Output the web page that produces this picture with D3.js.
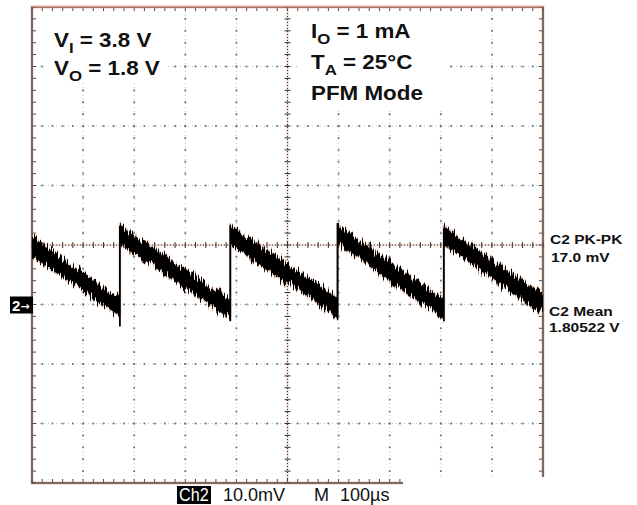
<!DOCTYPE html>
<html lang="en">
<head>
    <meta charset="UTF-8">
    <title>PFM output ripple</title>
    <script src="https://d3js.org/d3.v7.js"></script>
    <style>
        body { margin: 0; background: #fff; }
        svg { display: block; }
    </style>
</head>
<body>
    <svg></svg>
    <script>
        // trace: time in us, band centre in volts
        const traceTime = [0, 172, 172, 388, 388, 598, 598, 806, 806, 1000];
        const traceVolt = [1.8098, 1.7995, 1.8118, 1.7992, 1.8117, 1.7995, 1.8118, 1.7992, 1.8116, 1.8000];
        // the thin edges at each switching event
        const riseTime = [172, 388, 598, 806];
        const riseLow = [1.7963, 1.7972, 1.7975, 1.7972];
        const riseHigh = [1.8132, 1.8133, 1.8137, 1.8128];
        const bandHalf = 0.0016;   // noise band, +-1.6 mV

        const condLeft = [["V", "I", " = 3.8 V"], ["V", "O", " = 1.8 V"]];
        const condRight = [["I", "O", " = 1 mA"], ["T", "A", " = 25°C"], ["PFM Mode", "", ""]];
        const measLabels = ["C2 PK-PK", "17.0 mV", "C2 Mean", "1.80522 V"];

        const width = 637, height = 505;
        const svg = d3.select("svg").attr("width", width).attr("height", height);

        // 10 div x 100 us, 8 div x 10 mV, marker (2->) at 1.800 V
        const x = d3.scaleLinear().domain([0, 1000]).range([32, 543]);
        const y = d3.scaleLinear().domain([1.770, 1.850]).range([483, 7]);

        const majorX = d3.range(0, 1001, 100);
        const majorY = d3.range(0, 9).map(i => 1.770 + i * 0.01);
        const minorX = d3.range(0, 1001, 20);
        const minorY = d3.range(0, 41).map(i => 1.770 + i * 0.002);

        const defs = svg.append("defs");
        defs.append("clipPath").attr("id", "plot")
            .append("rect").attr("x", 32).attr("y", 7).attr("width", 511).attr("height", 476);

        // vertical jitter for the noisy trace
        const f = defs.append("filter").attr("id", "noise")
            .attr("x", "-2%").attr("y", "-20%").attr("width", "104%").attr("height", "140%");
        f.append("feTurbulence").attr("type", "fractalNoise")
            .attr("baseFrequency", "0.7 0.04").attr("numOctaves", 2).attr("seed", 7).attr("result", "t");
        const ct = f.append("feComponentTransfer").attr("in", "t").attr("result", "m");
        ct.append("feFuncR").attr("type", "linear").attr("slope", 0).attr("intercept", 0.5);
        ct.append("feFuncA").attr("type", "linear").attr("slope", 0).attr("intercept", 1);
        f.append("feDisplacementMap").attr("in", "SourceGraphic").attr("in2", "m")
            .attr("scale", 18).attr("xChannelSelector", "R").attr("yChannelSelector", "G");

        // grid
        const grid = svg.append("g");
        majorX.slice(1, -1).filter(d => d !== 500).forEach(d => {
            grid.append("line").attr("x1", x(d)).attr("x2", x(d)).attr("y1", 7).attr("y2", 483)
                .attr("stroke", "#bcc6cf").attr("stroke-width", 1).attr("stroke-dasharray", "1,3");
        });
        majorY.slice(1, -1).filter(d => Math.abs(d - 1.81) > 1e-6).forEach(d => {
            grid.append("line").attr("x1", 32).attr("x2", 543).attr("y1", y(d)).attr("y2", y(d))
                .attr("stroke", "#bcc6cf").attr("stroke-width", 1).attr("stroke-dasharray", "1,3");
        });
        // darker dots at minor positions along grid lines
        majorX.slice(1, -1).filter(d => d !== 500).forEach(d => {
            grid.selectAll(null).data(minorY.slice(1, -1)).join("rect")
                .attr("x", x(d) - 0.9).attr("y", v => y(v) - 0.9).attr("width", 1.8).attr("height", 1.8)
                .attr("fill", "#5f7a8a");
        });
        majorY.slice(1, -1).filter(d => Math.abs(d - 1.81) > 1e-6).forEach(d => {
            grid.selectAll(null).data(minorX.slice(1, -1)).join("rect")
                .attr("x", t => x(t) - 0.9).attr("y", y(d) - 0.9).attr("width", 1.8).attr("height", 1.8)
                .attr("fill", "#5f7a8a");
        });

        // centre cross
        grid.append("line").attr("x1", x(500)).attr("x2", x(500)).attr("y1", 7).attr("y2", 483)
            .attr("stroke", "#d9a080").attr("stroke-width", 2.5).attr("opacity", 0.35);
        grid.append("line").attr("x1", 32).attr("x2", 543).attr("y1", y(1.81)).attr("y2", y(1.81))
            .attr("stroke", "#d9a080").attr("stroke-width", 2.5).attr("opacity", 0.35);
        grid.append("line").attr("x1", x(500)).attr("x2", x(500)).attr("y1", 7).attr("y2", 483)
            .attr("stroke", "#333").attr("stroke-width", 1).attr("stroke-dasharray", "1,2");
        grid.append("line").attr("x1", 32).attr("x2", 543).attr("y1", y(1.81)).attr("y2", y(1.81))
            .attr("stroke", "#333").attr("stroke-width", 1).attr("stroke-dasharray", "1,2");
        grid.selectAll(null).data(minorY).join("line")
            .attr("x1", x(500) - 3).attr("x2", x(500) + 3).attr("y1", d => y(d)).attr("y2", d => y(d))
            .attr("stroke", "#333").attr("stroke-width", 1);
        grid.selectAll(null).data(minorX).join("line")
            .attr("y1", y(1.81) - 3).attr("y2", y(1.81) + 3).attr("x1", d => x(d)).attr("x2", d => x(d))
            .attr("stroke", "#333").attr("stroke-width", 1);

        // border ticks
        grid.selectAll(null).data(minorX).join("line")
            .attr("x1", d => x(d)).attr("x2", d => x(d)).attr("y1", 7).attr("y2", 11)
            .attr("stroke", "#445").attr("stroke-width", 1);
        grid.selectAll(null).data(minorX).join("line")
            .attr("x1", d => x(d)).attr("x2", d => x(d)).attr("y1", 479).attr("y2", 483)
            .attr("stroke", "#445").attr("stroke-width", 1);
        grid.selectAll(null).data(minorY).join("line")
            .attr("y1", d => y(d)).attr("y2", d => y(d)).attr("x1", 32).attr("x2", 36)
            .attr("stroke", "#445").attr("stroke-width", 1);
        grid.selectAll(null).data(minorY).join("line")
            .attr("y1", d => y(d)).attr("y2", d => y(d)).attr("x1", 539).attr("x2", 543)
            .attr("stroke", "#445").attr("stroke-width", 1);

        // frame
        svg.append("rect").attr("x", 32).attr("y", 7).attr("width", 511).attr("height", 476)
            .attr("fill", "none").attr("stroke", "#e5a888").attr("stroke-width", 3).attr("opacity", 0.6);
        svg.append("rect").attr("x", 32).attr("y", 7).attr("width", 511).attr("height", 476)
            .attr("fill", "none").attr("stroke", "#2a2a2a").attr("stroke-width", 1.2);
        svg.append("line").attr("x1", 32).attr("x2", 543).attr("y1", 6.5).attr("y2", 6.5)
            .attr("stroke", "#e8a088").attr("stroke-width", 1.6);

        // trace
        const pts = traceTime.map((t, i) => ({ t, v: traceVolt[i] }));
        const band = d3.area()
            .x(d => x(d.t))
            .y0(d => y(d.v - bandHalf))
            .y1(d => y(d.v + bandHalf));
        const tr = svg.append("g").attr("clip-path", "url(#plot)");
        const noisy = tr.append("g").attr("filter", "url(#noise)");
        noisy.append("path").datum(pts).attr("d", band)
            .attr("fill", "#000").attr("stroke", "#b06a48").attr("stroke-width", 2.5).attr("stroke-opacity", 0.45);
        noisy.append("path").datum(pts).attr("d", band).attr("fill", "#000");
        tr.selectAll(".rise").data(riseTime).join("line").attr("class", "rise")
            .attr("x1", d => x(d)).attr("x2", d => x(d))
            .attr("y1", (d, i) => y(riseLow[i])).attr("y2", (d, i) => y(riseHigh[i]))
            .attr("stroke", "#000").attr("stroke-width", 1.8);

        // channel marker
        svg.append("rect").attr("x", 10).attr("y", y(1.8) - 8).attr("width", 23).attr("height", 17).attr("fill", "#000");
        const mk = svg.append("text").attr("x", 12).attr("y", y(1.8) + 6).attr("fill", "#fff")
            .attr("font-family", "Liberation Sans, Arial, sans-serif").attr("font-size", 15).attr("font-weight", "bold");
        mk.append("tspan").text("2");
        mk.append("tspan").attr("font-family", "DejaVu Sans, sans-serif").attr("font-size", 11).attr("dy", -1).text("→");

        // condition boxes
        svg.append("rect").attr("x", 44).attr("y", 11).attr("width", 122).attr("height", 72).attr("fill", "#fff");
        svg.append("rect").attr("x", 297).attr("y", 11).attr("width", 152).attr("height", 98).attr("fill", "#fff");

        const bold = "Liberation Sans, Arial, sans-serif";
        function cond(items, x0, y0, dy) {
            items.forEach((c, i) => {
                const t = svg.append("text")
                    .attr("transform", `translate(${x0},${y0 + i * dy}) scale(1.12,1)`)
                    .attr("font-family", bold).attr("font-weight", "bold").attr("font-size", 20).attr("fill", "#111");
                t.append("tspan").text(c[0]);
                if (c[1]) t.append("tspan").attr("dy", 6).attr("font-size", 15).text(c[1]);
                if (c[2]) t.append("tspan").attr("dy", c[1] ? -6 : 0).text(c[2]);
            });
        }
        cond(condLeft, 54, 47, 28);
        cond(condRight, 311, 38, 31);

        // measurement read-outs
        const measY = [244, 262, 316, 332];
        const measX = [550, 551, 549, 549];
        measLabels.forEach((s, i) => {
            svg.append("text")
                .attr("transform", `translate(${measX[i]},${measY[i]}) scale(1.15,1)`)
                .attr("font-family", bold).attr("font-weight", "bold").attr("font-size", 13.5).attr("fill", "#111")
                .text(s);
        });

        // bottom status line
        svg.append("rect").attr("x", 177).attr("y", 486).attr("width", 34).attr("height", 18).attr("fill", "#000");
        const status = [["Ch2", 179, "#fff", 0.85], ["10.0mV", 223, "#111", 0.95], ["M", 314, "#111", 0.95], ["100µs", 340, "#111", 0.95]];
        status.forEach(s => {
            svg.append("text")
                .attr("transform", `translate(${s[1]},501) scale(${s[3]},1)`)
                .attr("font-family", "Liberation Sans, Arial, sans-serif").attr("font-size", 19)
                .attr("fill", s[2]).text(s[0]);
        });
        svg.append("rect").attr("x", 403).attr("y", 477).attr("width", 143).attr("height", 25).attr("fill", "#fff");
    </script>
</body>
</html>
